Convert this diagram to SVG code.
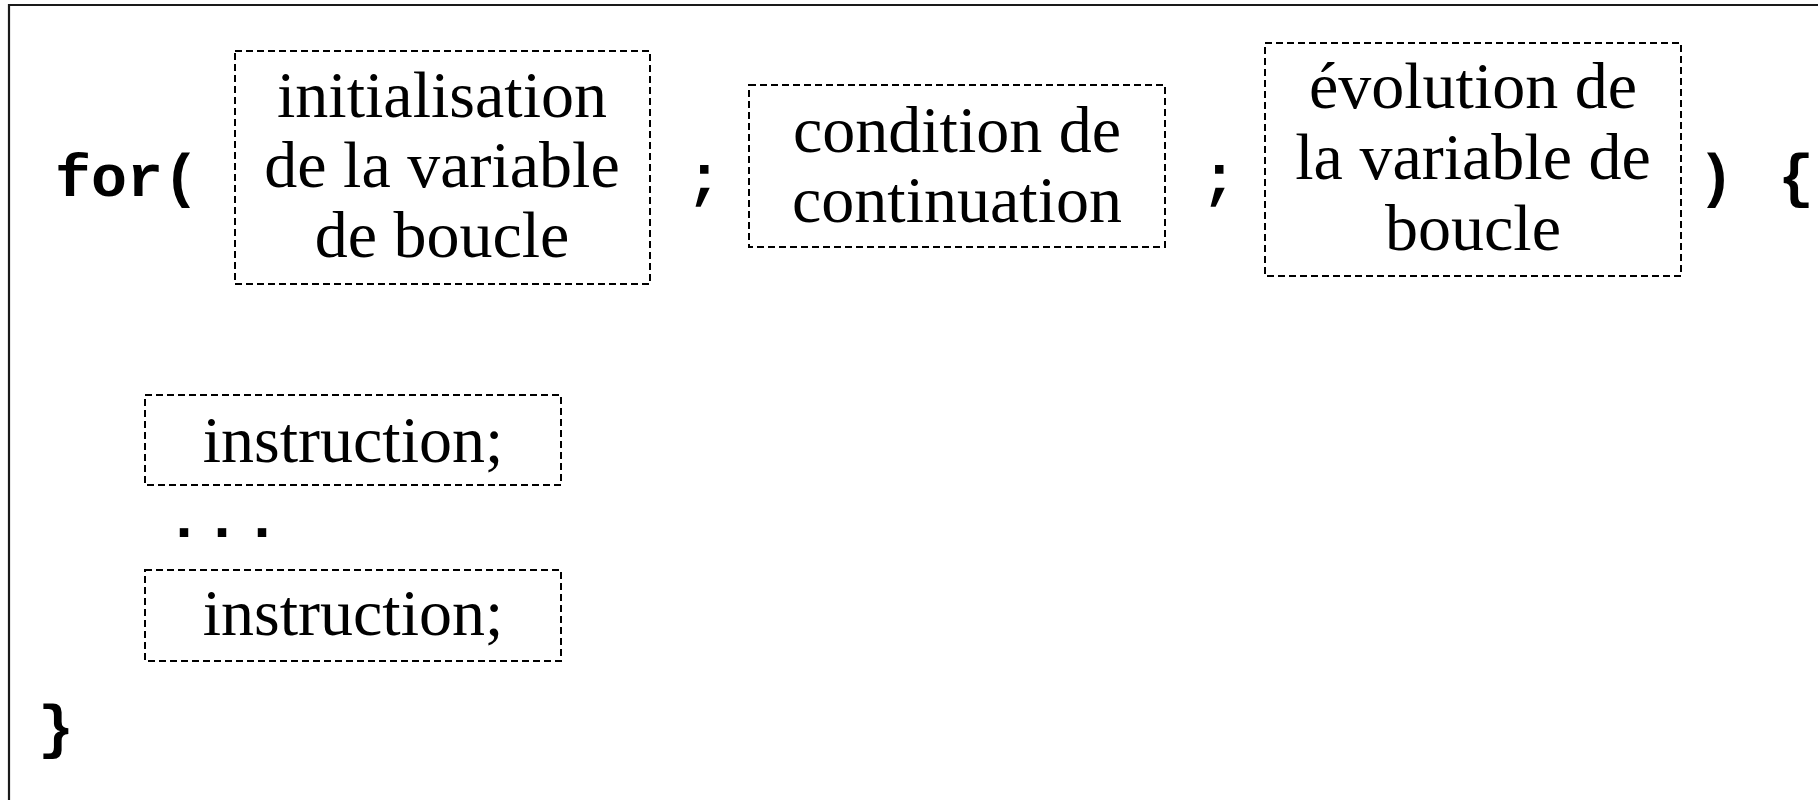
<svg xmlns="http://www.w3.org/2000/svg" width="1818" height="800" viewBox="0 0 1818 800">
<style>
.box{fill:none;stroke:#000;stroke-width:2;stroke-dasharray:7 4}
.t{font-family:"Liberation Serif","Times New Roman",serif;font-size:66px;fill:#000;text-anchor:middle}
.c{font-family:"Liberation Mono","Courier New",monospace;font-size:60px;font-weight:bold;fill:#000}
</style>
<rect x="0" y="0" width="1818" height="800" fill="#fff"/>
<path d="M9,800 V5 H1818" fill="none" stroke="#1a1a1a" stroke-width="2.2"/>
<g id="code">
<text class="c" x="55" y="196">for(</text>
<text class="c" x="686" y="196">;</text>
<text class="c" x="1201" y="196">;</text>
<text class="c" x="1698" y="196">)</text>
<text class="c" x="1778" y="196">{</text>
<text class="c" x="166 204 244" y="537">...</text>
<text class="c" x="38" y="747">}</text>
</g>
<g id="init">
<rect class="box" x="235" y="51" width="415" height="233"/>
<text class="t" x="442" y="117">initialisation</text>
<text class="t" x="442" y="187">de la variable</text>
<text class="t" x="442" y="257">de boucle</text>
</g>
<g id="condition">
<rect class="box" x="749" y="85" width="416" height="162"/>
<text class="t" x="957" y="152">condition de</text>
<text class="t" x="957" y="222">continuation</text>
</g>
<g id="evolution">
<rect class="box" x="1265" y="43" width="416" height="233"/>
<text class="t" x="1473" y="108">évolution de</text>
<text class="t" x="1473" y="179">la variable de</text>
<text class="t" x="1473" y="250">boucle</text>
</g>
<g id="instruction1">
<rect class="box" x="145" y="395" width="416" height="90"/>
<text class="t" x="353" y="462">instruction;</text>
</g>
<g id="instruction2">
<rect class="box" x="145" y="570" width="416" height="91"/>
<text class="t" x="353" y="635">instruction;</text>
</g>
<g id="connectors"></g>
</svg>
